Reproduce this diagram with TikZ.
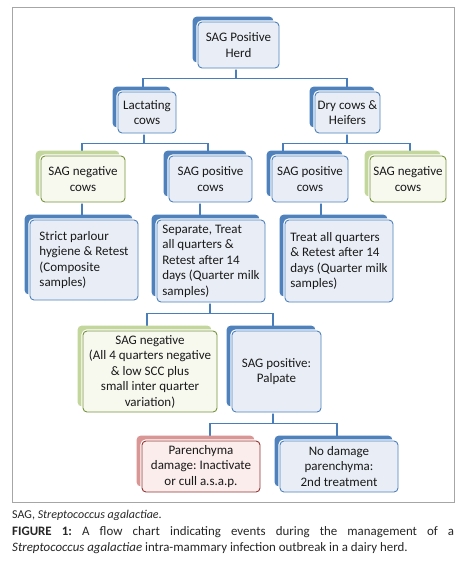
\documentclass[tikz,border=0pt]{standalone}
\usepackage{fontspec}
\setmainfont{Carlito}
\usetikzlibrary{calc}
\frenchspacing
\definecolor{bback}{HTML}{4F81BD}
\definecolor{bline}{HTML}{4F81BD}
\definecolor{bfill}{HTML}{E9EEF6}
\definecolor{gback}{HTML}{C3D69B}
\definecolor{gline}{HTML}{77933C}
\definecolor{gfill}{HTML}{F7F9EF}
\definecolor{rback}{HTML}{D99694}
\definecolor{rline}{HTML}{953735}
\definecolor{rfill}{HTML}{FAEDEC}
\definecolor{connc}{HTML}{4A7EBB}
\definecolor{framec}{HTML}{A6A6A6}
\pgfdeclarelayer{background}
\pgfsetlayers{background,main}
\tikzset{
  backbox/.style={rounded corners=4.5pt, draw=none, inner sep=0pt},
  frontbox/.style={rounded corners=4pt, line width=0.9pt, preaction={draw=white, line width=3.2pt},
    inner sep=0pt, align=center, text=black!90, font=\fontsize{13}{15.5}\selectfont},
  bfront/.style={frontbox, draw=bline, fill=bfill},
  gfront/.style={frontbox, draw=gline, fill=gfill},
  rfront/.style={frontbox, draw=rline, fill=rfill},
  conn/.style={draw=connc, line width=1.1pt},
}
% #1 options for front node, #2 colour prefix, #3 name, #4 x, #5 y, #6 width, #7 height, #8 text
\newcommand\flowbox[8][]{%
  \node[backbox, fill=#2back, minimum width=#6pt, minimum height=#7pt] (#3b) at ({#4-5.5},{#5-5.5}) {};
  \node[#2front, minimum width=#6pt, minimum height=#7pt, #1] (#3) at (#4,#5) {#8};
}
\begin{document}
\begin{tikzpicture}[x=1pt,y=-1pt]
\begin{pgfonlayer}{background}
\fill[white] (0,0) rectangle (461,571);
\end{pgfonlayer}
\useasboundingbox (0,0) rectangle (461,571);
\draw[framec, line width=0.8pt] (12,7) rectangle (454,502);

\flowbox{b}{top}{238.5}{45}{81}{46}{\fontsize{13}{16.5}\selectfont SAG Positive\\Herd}
\flowbox{b}{lac}{147}{112.5}{58}{41}{Lactating\\cows}
\flowbox{b}{dry}{347.5}{112.5}{65}{41}{Dry cows \&\\Heifers}

\flowbox{g}{neg1}{83}{179}{84}{46}{SAG negative\\cows}
\flowbox{b}{pos1}{210.5}{179}{83}{46}{SAG positive\\cows}
\flowbox{b}{pos2}{310}{179}{76}{46}{SAG positive\\cows}
\flowbox{g}{neg2}{408}{179}{76}{46}{SAG negative\\cows}

\flowbox[align=left]{b}{strict}{84}{260}{108}{80}{Strict parlour\\hygiene \& Retest\\(Composite\\samples)}
\flowbox[align=left]{b}{sep}{211}{261}{108}{82}{Separate, Treat\\all quarters \&\\Retest after 14\\days (Quarter milk\\samples)}
\flowbox[align=left]{b}{treat}{339}{261}{108}{82}{Treat all quarters\\\& Retest after 14\\days (Quarter milk\\samples)}

\flowbox{g}{neg3}{150}{371.5}{134}{81}{SAG negative\\(All 4 quarters negative\\\& low SCC plus\\small inter quarter\\variation)}
\flowbox{b}{palp}{276.5}{371.5}{89}{81}{SAG positive:\\Palpate}

\flowbox{r}{par}{201}{466.5}{118}{51}{Parenchyma\\damage: Inactivate\\or cull a.s.a.p.}
\flowbox{b}{nod}{339}{466.5}{118}{51}{No damage\\parenchyma:\\2nd treatment}

\begin{pgfonlayer}{background}
\draw[conn] ([xshift=-2.5pt]top.south) -- ++(0,10) -| ([xshift=-4pt]lac.north);
\draw[conn] ([xshift=-2.5pt]top.south) -- ++(0,10) -| ([xshift=-0.5pt]dry.north);
\draw[conn] ([xshift=-3pt]lac.south) -- ++(0,10) -| ([xshift=-1pt]neg1.north);
\draw[conn] ([xshift=-3pt]lac.south) -- ++(0,10) -| ([xshift=-2.5pt]pos1.north);
\draw[conn] ([xshift=-0.5pt]dry.south) -- ++(0,10) -| ([xshift=-27pt]pos2.north);
\draw[conn] ([xshift=-0.5pt]dry.south) -- ++(0,10) -| ([xshift=2pt]neg2.north);
\draw[conn] ([xshift=-1pt]neg1.south) -- ([xshift=-1pt]neg1.south |- strict.north);
\draw[conn] ([xshift=-10.5pt]pos1.south) -- ([xshift=-10.5pt]pos1.south |- sep.north);
\draw[conn] ([xshift=11pt]pos2.south) -- ([xshift=11pt]pos2.south |- treat.north);
\draw[conn] ([xshift=-1pt]sep.south) -- ++(0,11) -| ([xshift=-3pt]neg3.north);
\draw[conn] ([xshift=-1pt]sep.south) -- ++(0,11) -| ([xshift=-3.5pt]palp.north);
\draw[conn] ([xshift=-3.5pt]palp.south) -- ++(0,11) -| ([xshift=9pt]par.north);
\draw[conn] ([xshift=-3.5pt]palp.south) -- ++(0,11) -| ([xshift=-2pt]nod.north);
\end{pgfonlayer}

\node[anchor=base west, inner sep=0pt, text=black!85, font=\fontsize{12}{14}\selectfont] (note) at (12,518) {SAG, \textit{Streptococcus agalactiae}.};
\node[anchor=north west, inner sep=0pt, text width=442pt, align=justify, text=black!85, font=\fontsize{12.9}{16}\selectfont] (cap) at (12,526.5) {\textbf{FIGURE 1:} A flow chart indicating events during the management of a\linebreak \textit{Streptococcus agalactiae} intra-mammary infection outbreak in a dairy herd.};
\end{tikzpicture}
\end{document}
